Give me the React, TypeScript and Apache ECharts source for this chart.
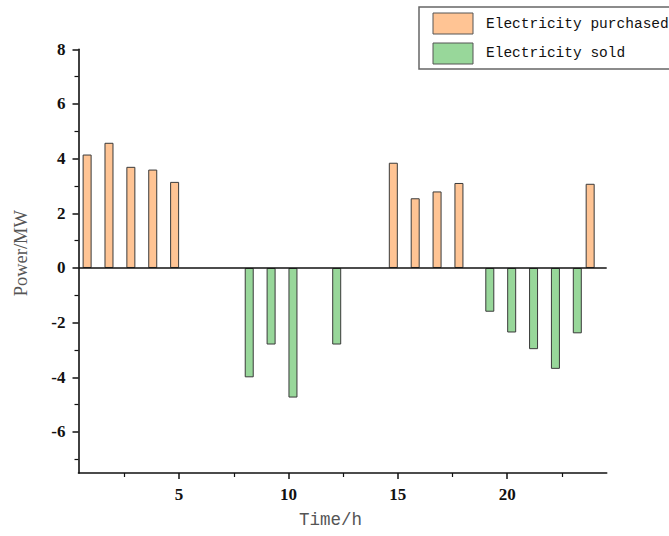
import React, { useEffect, useRef } from "react";
import * as echarts from "echarts";

// Hourly power exchanged with the grid (MW)
const seriesNames = ["Electricity purchased", "Electricity sold"];
const purchasedHours = [1, 2, 3, 4, 5, 15, 16, 17, 18, 24];
const purchasedValues = [4.15, 4.58, 3.7, 3.6, 3.15, 3.85, 2.55, 2.8, 3.11, 3.08];
const soldHours = [8, 9, 10, 12, 19, 20, 21, 22, 23];
const soldValues = [-4.0, -2.8, -4.74, -2.8, -1.6, -2.36, -2.97, -3.69, -2.39];

// Axis ticks
const xMajorTicks = [5, 10, 15, 20];
const xMinorTicks = [2.5, 7.5, 12.5, 17.5, 22.5];
const yMajorTicks = [-6, -4, -2, 0, 2, 4, 6, 8];
const yMinorTicks = [-7, -5, -3, -1, 1, 3, 5, 7];

const purchasedColor = "#FFC494";
const soldColor = "#98D79A";
const edgeColor = "#3a3a3a";
const tickFont = {
  fontFamily: "Liberation Serif",
  fontWeight: "bold" as const,
  fontSize: 17,
  color: "#111",
};

export default function App() {
  const ref = useRef<HTMLDivElement>(null);

  useEffect(() => {
    if (!ref.current) return;
    const chart = echarts.init(ref.current, undefined, { renderer: "svg" });

    const xRange = { min: 0.4, max: 24.55 };
    const yRange = { min: -7.5, max: 8 };
    const axisLine = { show: true, onZero: false, lineStyle: { color: "#111", width: 1.6 } };
    const hiddenLine = { show: false, onZero: false };

    chart.setOption({
      animation: false,
      backgroundColor: "#fff",
      grid: { left: 78.5, right: 62.3, top: 49.3, bottom: 63 },
      xAxis: [
        {
          type: "value",
          position: "bottom",
          ...xRange,
          axisLine,
          splitLine: { show: false },
          axisTick: {
            show: true,
            inside: false,
            length: 6,
            customValues: xMajorTicks,
            lineStyle: { color: "#111", width: 1.5 },
          },
          axisLabel: { ...tickFont, margin: 13, customValues: xMajorTicks },
          name: "Time/h",
          nameLocation: "middle",
          nameGap: 38,
          nameTextStyle: {
            fontFamily: "Liberation Mono",
            fontSize: 17.5,
            color: "#555",
            padding: [0, 24, 0, 0],
          },
        },
        {
          type: "value",
          position: "bottom",
          offset: 0,
          ...xRange,
          axisLine: hiddenLine,
          splitLine: { show: false },
          axisTick: {
            show: true,
            length: 4,
            customValues: xMinorTicks,
            lineStyle: { color: "#111", width: 1.2 },
          },
          axisLabel: { show: false },
        },
      ],
      yAxis: [
        {
          type: "value",
          position: "left",
          ...yRange,
          axisLine,
          splitLine: { show: false },
          axisTick: {
            show: true,
            length: 6,
            customValues: yMajorTicks,
            lineStyle: { color: "#111", width: 1.5 },
          },
          axisLabel: { ...tickFont, margin: 13, customValues: yMajorTicks },
          name: "Power/MW",
          nameLocation: "middle",
          nameGap: 48,
          nameTextStyle: {
            fontFamily: "Liberation Serif",
            fontSize: 18.5,
            color: "#555",
            padding: [0, 0, 0, 16],
          },
        },
        {
          type: "value",
          position: "left",
          offset: 0,
          ...yRange,
          axisLine: hiddenLine,
          splitLine: { show: false },
          axisTick: {
            show: true,
            length: 4,
            customValues: yMinorTicks,
            lineStyle: { color: "#111", width: 1.2 },
          },
          axisLabel: { show: false },
        },
      ],
      series: [
        {
          name: seriesNames[0],
          type: "bar",
          xAxisIndex: 0,
          yAxisIndex: 0,
          barWidth: 9,
          barGap: "0%",
          data: purchasedHours.map((h, i) => [h, purchasedValues[i]]),
          itemStyle: { color: purchasedColor, borderColor: edgeColor, borderWidth: 1 },
          markLine: {
            silent: true,
            symbol: "none",
            label: { show: false },
            lineStyle: { color: "#111", width: 1.6, type: "solid" },
            data: [{ yAxis: 0 }],
          },
        },
        {
          name: seriesNames[1],
          type: "bar",
          xAxisIndex: 0,
          yAxisIndex: 0,
          barWidth: 9,
          barGap: "0%",
          data: soldHours.map((h, i) => [h, soldValues[i]]),
          itemStyle: { color: soldColor, borderColor: edgeColor, borderWidth: 1 },
        },
      ],
      graphic: [
        {
          type: "rect",
          shape: { x: 419, y: 7, width: 270, height: 62 },
          style: { fill: "#fff", stroke: "#666", lineWidth: 1.5 },
          z: 10,
        },
        {
          type: "rect",
          shape: { x: 433, y: 13, width: 40, height: 21 },
          style: { fill: purchasedColor, stroke: "#555", lineWidth: 1 },
          z: 11,
        },
        {
          type: "rect",
          shape: { x: 433, y: 43, width: 40, height: 21 },
          style: { fill: soldColor, stroke: "#555", lineWidth: 1 },
          z: 11,
        },
        {
          type: "text",
          x: 486,
          y: 24,
          style: {
            text: seriesNames[0],
            font: "14.5px 'Liberation Mono'",
            fill: "#111",
            verticalAlign: "middle",
          },
          z: 11,
        },
        {
          type: "text",
          x: 486,
          y: 53,
          style: {
            text: seriesNames[1],
            font: "14.5px 'Liberation Mono'",
            fill: "#111",
            verticalAlign: "middle",
          },
          z: 11,
        },
      ],
    });

    return () => chart.dispose();
  }, []);

  return (
    <div
      ref={ref}
      style={{ position: "fixed", left: 0, top: 0, width: 669, height: 536, background: "#fff" }}
    />
  );
}
